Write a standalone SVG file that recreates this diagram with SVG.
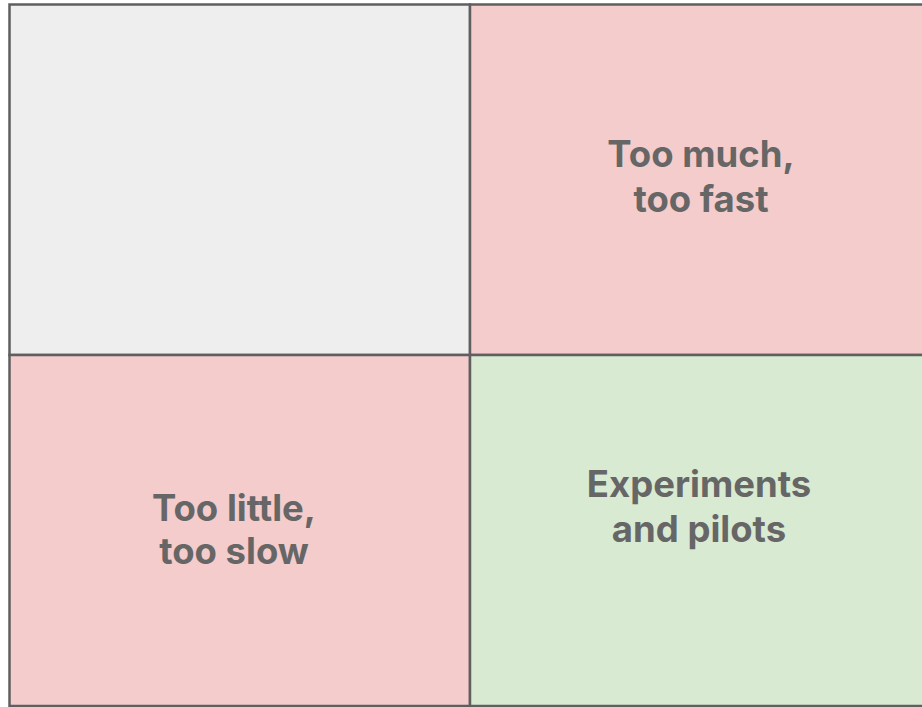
<svg xmlns="http://www.w3.org/2000/svg" width="922" height="707" viewBox="0 0 922 707">
  <style>
    .cell { stroke: #5f5f5f; stroke-width: 2.5; }
    .grey { fill: #eeeeee; }
    .red { fill: #f4cccc; }
    .green { fill: #d9ead3; }
    .label { font-family: Inter, "Open Sans", "Liberation Sans", sans-serif; font-weight: 700; font-size: 36.5px; fill: #666666; text-anchor: middle; }
  </style>
  <rect width="922" height="707" fill="#ffffff"/>
  <g id="cell-top-left">
    <rect class="cell grey" x="9.5" y="4.5" width="460.5" height="350.5"/>
  </g>
  <g id="cell-top-right">
    <rect class="cell red" x="470" y="4.5" width="461" height="350.5"/>
    <text class="label" x="701" y="167">Too much,</text>
    <text class="label" x="701" y="212">too fast</text>
  </g>
  <g id="cell-bottom-left">
    <rect class="cell red" x="9.5" y="355" width="460.5" height="351"/>
    <text class="label" x="234" y="521">Too little,</text>
    <text class="label" x="234" y="564">too slow</text>
  </g>
  <g id="cell-bottom-right">
    <rect class="cell green" x="470" y="355" width="461" height="351"/>
    <text class="label" x="699" y="497">Experiments</text>
    <text class="label" x="699" y="542">and pilots</text>
  </g>
</svg>
